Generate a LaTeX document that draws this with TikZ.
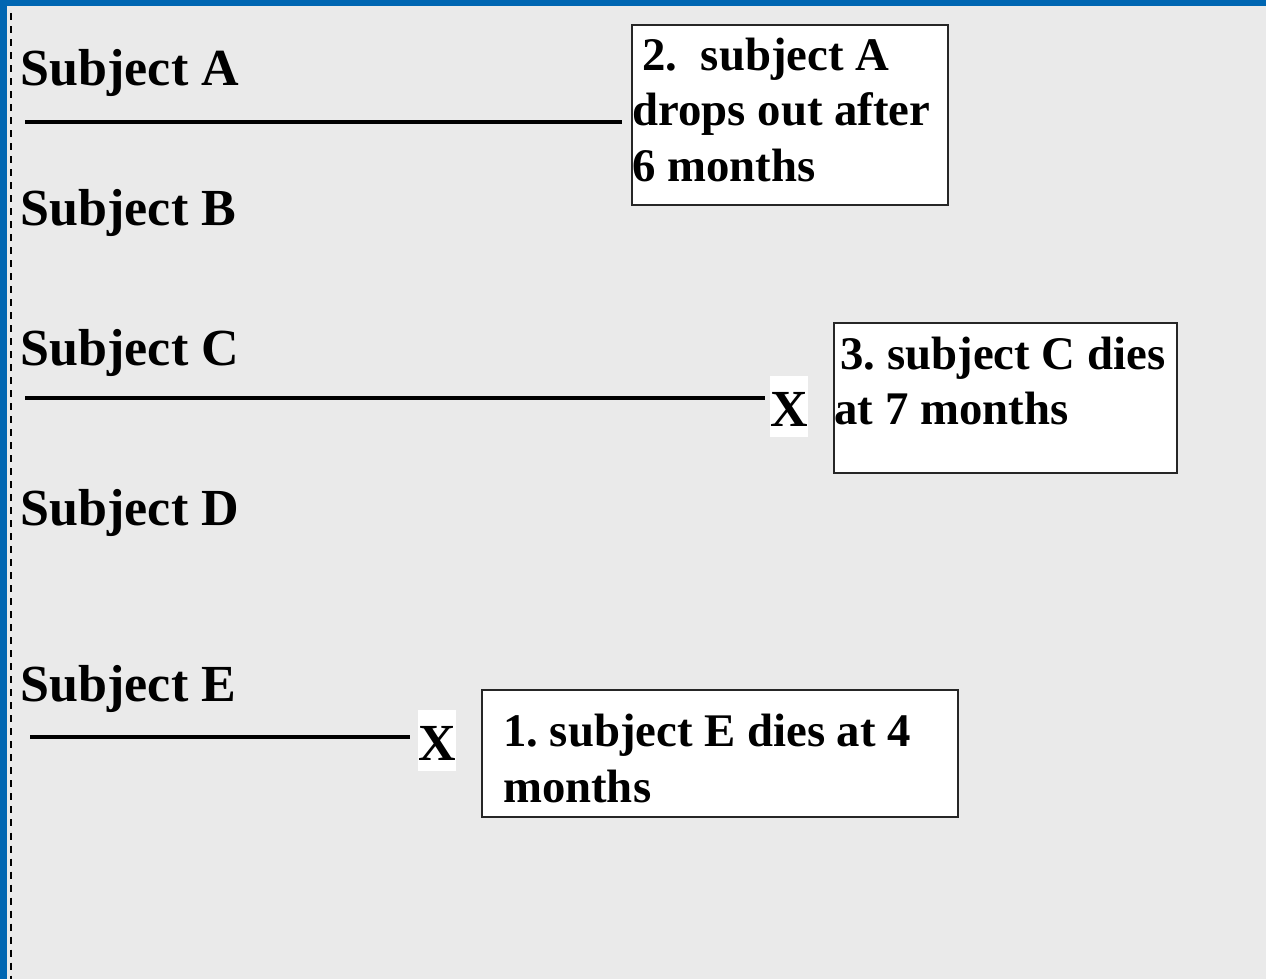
\documentclass[tikz,border=0pt]{standalone}
\usepackage{fontspec}
\setmainfont{Liberation Serif}
\definecolor{slidegray}{RGB}{234,234,234}
\definecolor{slideblue}{RGB}{0,102,178}
\begin{document}
\begin{tikzpicture}[x=0.01cm,y=-0.01cm]
	\tikzset{subject/.style={anchor=base west,inner sep=0pt,font=\fontsize{14.8}{17}\selectfont\bfseries},
		event box/.style={draw=black!85,line width=0.6pt,fill=white,anchor=north west,align=flush left,inner ysep=0pt,font=\fontsize{13.3}{15.9}\selectfont\bfseries\frenchspacing},
		cross/.style={fill=white,inner sep=0pt,anchor=base,text height=0.5cm,text depth=0.11cm,font=\fontsize{14.8}{17}\selectfont\bfseries},
		timeline/.style={line width=1pt}}
	% slide
	\useasboundingbox	(0,0) rectangle (1266,979);
	\fill [slidegray]	(-5,-5) rectangle (1271,985);
	\fill [slideblue]	(-5,-5) rectangle (1271,6);
	\fill [slideblue]	(-5,-5) rectangle (7,985);
	\draw [line width=0.7pt,dash pattern=on 0.07cm off 0.06cm]	(11,13) -- (11,985);
	\node [subject] (subA)	at (20,86)		{Subject A};
	\node [subject] (subB)	at (20,226)		{Subject B};
	\node [subject] (subC)	at (20,366)		{Subject C};
	\node [subject] (subD)	at (20,525)		{Subject D};
	\node [subject] (subE)	at (20,701)		{Subject E};
		\coordinate (startA)	at (25,122);
		\coordinate (startC)	at (25,398);
		\coordinate (startE)	at (30,737);
	\node [cross] (xC)	at (789,426)	{X};
	\node [cross] (xE)	at (437,760)	{X};
	\node [event box,inner xsep=0.005cm,text width=3.15cm,text height=0.45cm,text depth=1.35cm] (eventA)	at (631,24)
		{\hspace*{0.1cm}2.\ \ subject A\\drops out after\\6 months};
	\node [event box,inner xsep=0.005cm,text width=3.42cm,text height=0.46cm,text depth=1.04cm] (eventC)	at (833,322)
		{\hspace*{0.06cm}3. subject C dies\\at 7 months};
	\node [event box,inner xsep=0.21cm,text width=4.34cm,text height=0.56cm,text depth=0.71cm] (eventE)	at (481,689)
		{1. subject E dies at 4\\months};
	\draw [timeline,shorten >=0.09cm]	(startA) -- (startA -| eventA.west);
	\draw [timeline,shorten >=0.05cm]	(startC) -- (startC -| xC.west);
	\draw [timeline,shorten >=0.08cm]	(startE) -- (startE -| xE.west);
\end{tikzpicture}
\end{document}
